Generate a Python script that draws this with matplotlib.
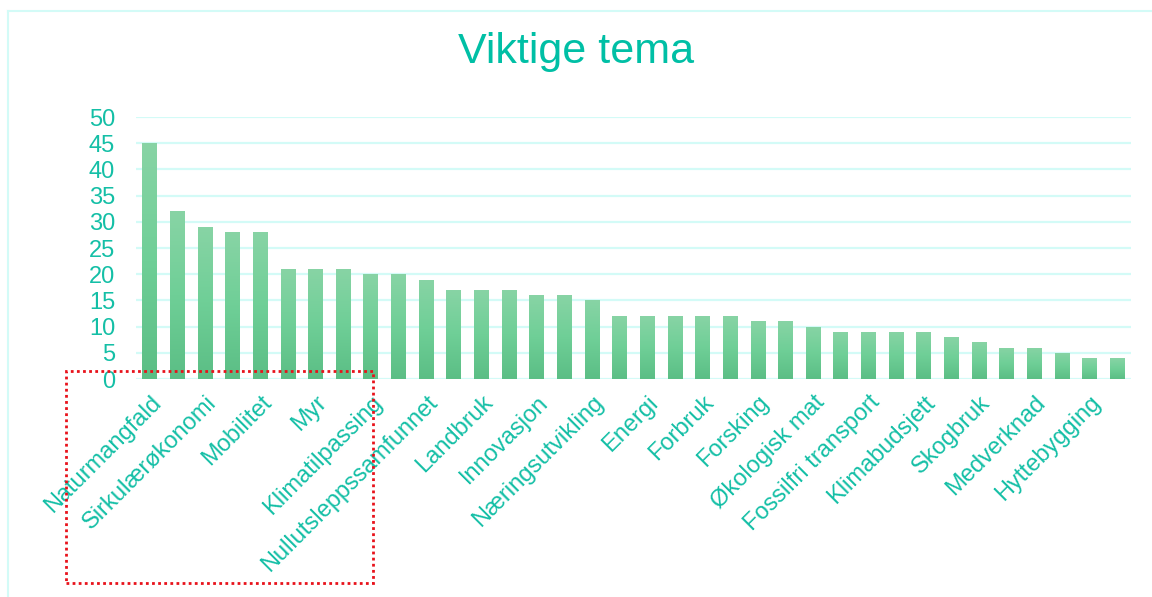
import numpy as np
import matplotlib
matplotlib.use("Agg")
import matplotlib.pyplot as plt
from matplotlib.patches import Rectangle
from matplotlib.colors import LinearSegmentedColormap

plt.rcParams["font.family"] = ["Liberation Sans", "DejaVu Sans"]

# every other category is named on the axis in the original chart
labels = ["Naturmangfald", "Sirkulærøkonomi", "Mobilitet", "Myr", "Klimatilpassing",
          "Nullutsleppssamfunnet", "Landbruk", "Innovasjon", "Næringsutvikling", "Energi",
          "Forbruk", "Forsking", "Økologisk mat", "Fossilfri transport", "Klimabudsjett",
          "Skogbruk", "Medverknad", "Hyttebygging"]
values = [45, 32, 29, 28, 28, 21, 21, 21, 20, 20, 19, 17, 17, 17, 16, 16, 15,
          12, 12, 12, 12, 12, 11, 11, 10, 9, 9, 9, 9, 8, 7, 6, 6, 5, 4, 4]
yticks = [0, 5, 10, 15, 20, 25, 30, 35, 40, 45, 50]

teal = "#14bfa6"
grid_col = "#d3fbf7"

fig = plt.figure(figsize=(11.52, 5.97), dpi=100)
ax = fig.add_axes([0.118, 0.365, 0.864, 0.439])

x = np.arange(len(values))
bars = ax.bar(x, values, width=0.54, color="#6fcd97", zorder=2)

# vertical gradient inside each bar, light at top, darker at bottom
cmap = LinearSegmentedColormap.from_list("g", ["#5bbe85", "#6fcf97", "#88d4a5"])
grad = np.linspace(0, 1, 256).reshape(-1, 1)
for b in bars:
    bx, by = b.get_x(), b.get_y()
    w, h = b.get_width(), b.get_height()
    im = ax.imshow(grad, cmap=cmap, aspect="auto", origin="lower",
                   extent=(bx, bx + w, by, by + h), zorder=3)
    im.set_clip_path(b)

ax.set_xlim(-0.5, len(values) - 0.5)
ax.set_ylim(0, 50)
ax.set_yticks(yticks)
ax.yaxis.grid(True, color=grid_col, linewidth=1.6, zorder=0)
ax.set_axisbelow(True)
for s in ax.spines.values():
    s.set_visible(False)
ax.tick_params(axis="y", length=0, pad=15, labelsize=17, labelcolor=teal)
ax.tick_params(axis="x", length=0, pad=9, labelsize=17, labelcolor=teal)
ax.set_xticks(x[::2])
ax.set_xticklabels(labels, rotation=45, ha="right", rotation_mode="anchor")

fig.text(0.5, 0.913, "Viktige tema", ha="center", va="center",
         fontsize=31, color="#00bfa5")

# light frame around the chart area
fig.add_artist(plt.Line2D([8 / 1152, 8 / 1152], [0, 1 - 11 / 597],
                          color=grid_col, linewidth=1.5, transform=fig.transFigure))
fig.add_artist(plt.Line2D([8 / 1152, 1], [1 - 11 / 597, 1 - 11 / 597],
                          color=grid_col, linewidth=1.5, transform=fig.transFigure))

# red dotted highlight box
fig.add_artist(Rectangle((66 / 1152, 1 - 583 / 597), (373 - 66) / 1152, (583 - 371) / 597,
                         transform=fig.transFigure, fill=False, edgecolor="#e8121b",
                         linestyle=(0, (1, 1.2)), linewidth=2, zorder=10))

fig.savefig("out.png", dpi=100, facecolor="white")
